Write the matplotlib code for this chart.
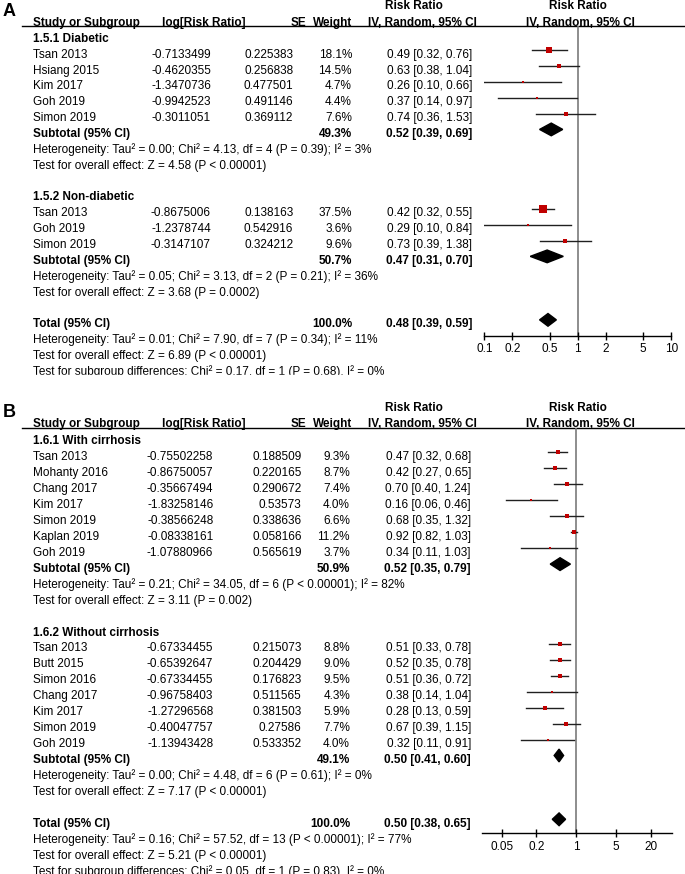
import numpy as np
import matplotlib
matplotlib.use("Agg")
import matplotlib.pyplot as plt
from matplotlib.patches import Polygon, Rectangle

plt.rcParams['font.family'] = ['Liberation Sans', 'DejaVu Sans']
FS = 8.5

# ---------------- panel A : diabetic / non-diabetic
a1_name = "1.5.1 Diabetic"
a1_study = ["Tsan 2013", "Hsiang 2015", "Kim 2017", "Goh 2019", "Simon 2019"]
a1_log = ["-0.7133499", "-0.4620355", "-1.3470736", "-0.9942523", "-0.3011051"]
a1_se = ["0.225383", "0.256838", "0.477501", "0.491146", "0.369112"]
a1_w = [18.1, 14.5, 4.7, 4.4, 7.6]
a1_rr = [0.49, 0.63, 0.26, 0.37, 0.74]
a1_lo = [0.32, 0.38, 0.10, 0.14, 0.36]
a1_hi = [0.76, 1.04, 0.66, 0.97, 1.53]
a1_sub = [49.3, 0.52, 0.39, 0.69]
a1_het = "Heterogeneity: Tau² = 0.00; Chi² = 4.13, df = 4 (P = 0.39); I² = 3%"
a1_test = "Test for overall effect: Z = 4.58 (P < 0.00001)"

a2_name = "1.5.2 Non-diabetic"
a2_study = ["Tsan 2013", "Goh 2019", "Simon 2019"]
a2_log = ["-0.8675006", "-1.2378744", "-0.3147107"]
a2_se = ["0.138163", "0.542916", "0.324212"]
a2_w = [37.5, 3.6, 9.6]
a2_rr = [0.42, 0.29, 0.73]
a2_lo = [0.32, 0.10, 0.39]
a2_hi = [0.55, 0.84, 1.38]
a2_sub = [50.7, 0.47, 0.31, 0.70]
a2_het = "Heterogeneity: Tau² = 0.05; Chi² = 3.13, df = 2 (P = 0.21); I² = 36%"
a2_test = "Test for overall effect: Z = 3.68 (P = 0.0002)"

a_total = [100.0, 0.48, 0.39, 0.59]
a_total_txt = ["Heterogeneity: Tau² = 0.01; Chi² = 7.90, df = 7 (P = 0.34); I² = 11%",
               "Test for overall effect: Z = 6.89 (P < 0.00001)",
               "Test for subgroup differences: Chi² = 0.17, df = 1 (P = 0.68), I² = 0%"]
a_ticks = [0.1, 0.2, 0.5, 1, 2, 5, 10]
a_ticklabels = ["0.1", "0.2", "0.5", "1", "2", "5", "10"]

# ---------------- panel B : with / without cirrhosis
b1_name = "1.6.1 With cirrhosis"
b1_study = ["Tsan 2013", "Mohanty 2016", "Chang 2017", "Kim 2017", "Simon 2019",
            "Kaplan 2019", "Goh 2019"]
b1_log = ["-0.75502258", "-0.86750057", "-0.35667494", "-1.83258146", "-0.38566248",
          "-0.08338161", "-1.07880966"]
b1_se = ["0.188509", "0.220165", "0.290672", "0.53573", "0.338636", "0.058166", "0.565619"]
b1_w = [9.3, 8.7, 7.4, 4.0, 6.6, 11.2, 3.7]
b1_rr = [0.47, 0.42, 0.70, 0.16, 0.68, 0.92, 0.34]
b1_lo = [0.32, 0.27, 0.40, 0.06, 0.35, 0.82, 0.11]
b1_hi = [0.68, 0.65, 1.24, 0.46, 1.32, 1.03, 1.03]
b1_sub = [50.9, 0.52, 0.35, 0.79]
b1_het = "Heterogeneity: Tau² = 0.21; Chi² = 34.05, df = 6 (P < 0.00001); I² = 82%"
b1_test = "Test for overall effect: Z = 3.11 (P = 0.002)"

b2_name = "1.6.2 Without cirrhosis"
b2_study = ["Tsan 2013", "Butt 2015", "Simon 2016", "Chang 2017", "Kim 2017",
            "Simon 2019", "Goh 2019"]
b2_log = ["-0.67334455", "-0.65392647", "-0.67334455", "-0.96758403", "-1.27296568",
          "-0.40047757", "-1.13943428"]
b2_se = ["0.215073", "0.204429", "0.176823", "0.511565", "0.381503", "0.27586", "0.533352"]
b2_w = [8.8, 9.0, 9.5, 4.3, 5.9, 7.7, 4.0]
b2_rr = [0.51, 0.52, 0.51, 0.38, 0.28, 0.67, 0.32]
b2_lo = [0.33, 0.35, 0.36, 0.14, 0.13, 0.39, 0.11]
b2_hi = [0.78, 0.78, 0.72, 1.04, 0.59, 1.15, 0.91]
b2_sub = [49.1, 0.50, 0.41, 0.60]
b2_het = "Heterogeneity: Tau² = 0.00; Chi² = 4.48, df = 6 (P = 0.61); I² = 0%"
b2_test = "Test for overall effect: Z = 7.17 (P < 0.00001)"

b_total = [100.0, 0.50, 0.38, 0.65]
b_total_txt = ["Heterogeneity: Tau² = 0.16; Chi² = 57.52, df = 13 (P < 0.00001); I² = 77%",
               "Test for overall effect: Z = 5.21 (P < 0.00001)",
               "Test for subgroup differences: Chi² = 0.05, df = 1 (P = 0.83), I² = 0%"]
b_ticks = [0.05, 0.2, 1, 5, 20]
b_ticklabels = ["0.05", "0.2", "1", "5", "20"]

W, H = 685, 874
fig = plt.figure(figsize=(W / 100, H / 100), dpi=100)
tax = fig.add_axes([0, 0, 1, 1])
tax.set_xlim(0, W)
tax.set_ylim(H, 0)
tax.axis("off")

BASE = 4.1      # baseline below visual row centre (px)
SHIFT = -3.5    # forest marks sit a bit above the text rows
RED = "#c00000"


def txt(x, y, s, ha="left", bold=False, size=FS):
    tax.text(x, y + BASE, s, ha=ha, va="baseline", fontsize=size,
             fontweight="bold" if bold else "normal", color="black")


def ci_str(rr, lo, hi):
    return f"{rr:.2f} [{lo:.2f}, {hi:.2f}]"


def panel(letter, hdr_y, row0, sp, axis_y, plot_l, plot_r, xlim, ticks, ticklabels,
          cols, groups, total, total_txt):
    log_r, se_r, w_r, ci_r = cols
    tax.text(9, hdr_y - 10.5, letter, fontsize=13, fontweight="bold", ha="center", va="center")
    txt(414, hdr_y - 16.5, "Risk Ratio", ha="center", bold=True)
    txt(578, hdr_y - 16.5, "Risk Ratio", ha="center", bold=True)
    txt(33, hdr_y, "Study or Subgroup", bold=True)
    txt(162, hdr_y, "log[Risk Ratio]", bold=True)
    txt(306, hdr_y, "SE", ha="right", bold=True)
    txt(352, hdr_y, "Weight", ha="right", bold=True)
    txt(422, hdr_y, "IV, Random, 95% CI", ha="center", bold=True)
    txt(580, hdr_y, "IV, Random, 95% CI", ha="center", bold=True)
    line_y = hdr_y + 4.8
    tax.plot([22, W], [line_y, line_y], color="black", lw=1.0)

    # forest axes, y in row units
    fax = fig.add_axes([plot_l / W, 1 - axis_y / H, (plot_r - plot_l) / W, (axis_y - line_y) / H])
    fax.set_xscale("log")
    fax.set_xlim(*xlim)
    fax.set_ylim((axis_y - row0 - SHIFT) / sp, (line_y - row0 - SHIFT) / sp)
    fax.patch.set_alpha(0)
    for s in ["top", "left", "right"]:
        fax.spines[s].set_visible(False)
    fax.spines["bottom"].set_linewidth(1.0)
    fax.set_yticks([])
    fax.minorticks_off()
    fax.set_xticks(ticks)
    fax.set_xticklabels(ticklabels, fontsize=FS)
    fax.tick_params(axis="x", direction="inout", length=6, width=1, pad=2.5)
    fax.axvline(1, color="#7a7a7a", lw=1.2, zorder=1)

    def diamond(r, rr, lo, hi):
        fax.add_patch(Polygon([(lo, r), (rr, r - 0.4), (hi, r), (rr, r + 0.4)],
                              closed=True, color="black", zorder=3, clip_on=False))

    row = 0
    for name, study, logs, ses, ws, rrs, los, his, sub, het, test in groups:
        txt(33, row0 + sp * row, name, bold=True)
        row += 1
        for k in range(len(study)):
            y = row0 + sp * row
            txt(33, y, study[k])
            txt(log_r, y, logs[k], ha="right")
            txt(se_r, y, ses[k], ha="right")
            txt(w_r, y, f"{ws[k]:.1f}%", ha="right")
            txt(ci_r, y, ci_str(rrs[k], los[k], his[k]), ha="right")
            fax.plot([los[k], his[k]], [row, row], color="#202020", lw=1.0, zorder=2)
            side = 1.25 * np.sqrt(ws[k]) * 0.72
            fax.scatter([rrs[k]], [row], marker="s", s=side ** 2, color=RED,
                        linewidths=0, zorder=4)
            row += 1
        y = row0 + sp * row
        txt(33, y, "Subtotal (95% CI)", bold=True)
        txt(w_r, y, f"{sub[0]:.1f}%", ha="right", bold=True)
        txt(ci_r, y, ci_str(sub[1], sub[2], sub[3]), ha="right", bold=True)
        diamond(row, sub[1], sub[2], sub[3])
        row += 1
        txt(33, row0 + sp * row, het)
        row += 1
        txt(33, row0 + sp * row, test)
        row += 2
    y = row0 + sp * row
    txt(33, y, "Total (95% CI)", bold=True)
    txt(w_r, y, f"{total[0]:.1f}%", ha="right", bold=True)
    txt(ci_r, y, ci_str(total[1], total[2], total[3]), ha="right", bold=True)
    diamond(row, total[1], total[2], total[3])
    for line in total_txt:
        row += 1
        txt(33, row0 + sp * row, line)


groups_a = [
    (a1_name, a1_study, a1_log, a1_se, a1_w, a1_rr, a1_lo, a1_hi, a1_sub, a1_het, a1_test),
    (a2_name, a2_study, a2_log, a2_se, a2_w, a2_rr, a2_lo, a2_hi, a2_sub, a2_het, a2_test),
]
groups_b = [
    (b1_name, b1_study, b1_log, b1_se, b1_w, b1_rr, b1_lo, b1_hi, b1_sub, b1_het, b1_test),
    (b2_name, b2_study, b2_log, b2_se, b2_w, b2_rr, b2_lo, b2_hi, b2_sub, b2_het, b2_test),
]

panel("A", 21.5, 37.7, 15.87, 335.7, 484.3, 671.3, (0.1, 10), a_ticks, a_ticklabels,
      (211, 293.3, 352, 472.5), groups_a, a_total, a_total_txt)
# panel A is cropped just under its last line in the reference
tax.add_patch(Rectangle((0, 374.8), W, 12, color="white", zorder=10))

panel("B", 423.3, 440, 15.95, 833.3, 481.7, 671.7, (0.0222, 46.5), b_ticks, b_ticklabels,
      (213.3, 301.7, 350, 471), groups_b, b_total, b_total_txt)

fig.savefig("out.png", dpi=100, facecolor="white")
